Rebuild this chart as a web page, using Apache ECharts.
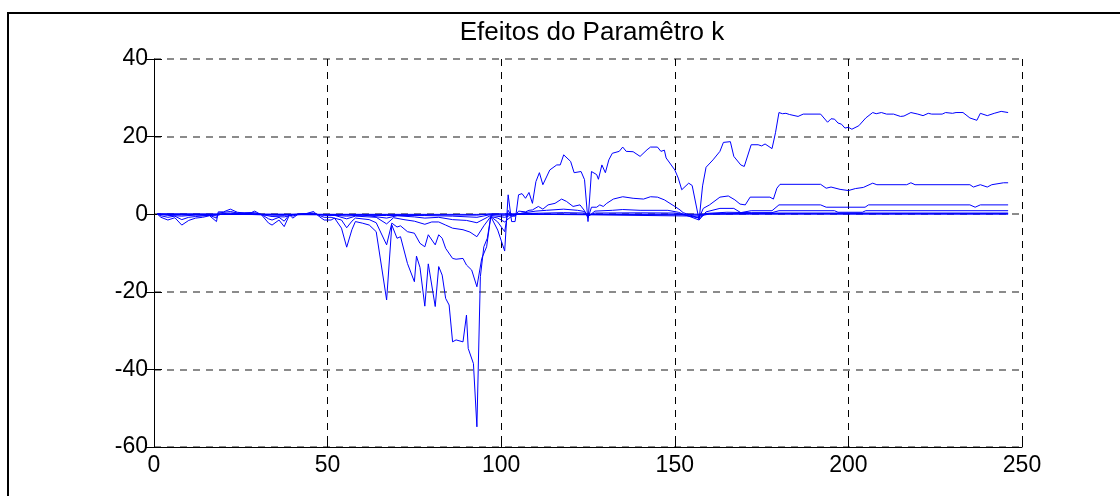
<!DOCTYPE html>
<html>
<head>
<meta charset="utf-8">
<script src="https://cdn.jsdelivr.net/npm/echarts@6/dist/echarts.min.js"></script>
<style>
  html, body { margin: 0; padding: 0; background: #fff; }
  #chart { width: 1120px; height: 496px; }
</style>
</head>
<body>
<div id="chart"></div>
<script>
// Ridge-trace style curves: one line per value of k, plotted against sample index.
const titleText = 'Efeitos do Paramêtro k';
const xTicks = [0, 50, 100, 150, 200, 250];
const yTicks = [-60, -40, -20, 0, 20, 40];

const curveK1 = [
  [1,0],[2,-0.8],[4,-1.5],[6,-0.9],[8,-2.8],[10,-1.6],[12,-1.0],[14,-0.8],[16,-0.4],[18,-1.9],[18.5,0.6],
  [20,0.6],[22,1.3],[24,0.5],[26,0.3],[28,0.4],[29,0.8],[31,-0.2],[33,-2.3],[34,-2.8],[36,-1.5],[37.5,-3.2],
  [39,-0.2],[40,-1.0],[41.5,0],[44,0.2],[46,0.7],[47,-0.2],[49,-1.5],[51,-1.5],[52,-1.0],[54,-3.6],[55.5,-8.5],
  [57,-4.0],[58,-1.9],[60,-2.3],[62,-2.8],[64,-4.5],[67,-22.1],[68.5,-2.8],[70,-6.2],[71,-5.8],[73,-12.7],
  [75,-17.4],[75.6,-10.8],[76.6,-13.7],[78,-23.7],[79,-12.8],[81,-23.8],[82,-13.5],[83,-15.7],[84,-21.7],
  [85,-23.4],[86,-32.9],[87,-32.4],[89,-32.9],[90,-26.0],[90.5,-34.6],[92,-38.5],[93,-54.8],[94,-16.1],
  [95,-8.4],[96,-6.2],[97,-0.6],[99,-4.1],[101,-9.5],[102,5.0],[103,-1.9],[104,-1.9],[105,5.0],[106,5.3],
  [107,4.1],[108,5.6],[109,2.8],[110,8.4],[111,10.7],[112,7.6],[114,11.4],[116,12.7],[117,12.7],[118,15.3],
  [120,13.6],[121,10.7],[123,11.0],[124,8.9],[125,-1.9],[126,11.0],[127.5,10.2],[128,9.0],[129,12.7],[130,10.7],
  [131,14.0],[132,15.7],[134,16.2],[135,17.3],[136,16.2],[138,16.1],[140,14.9],[142,16.6],[143,17.3],[145,17.3],
  [146,16.2],[147,16.5],[147.5,14.5],[150,11.4],[151,9.3],[152,6.3],[154,8.0],[155,7.4],[157,-1.5],[158,7.3],
  [159,12.1],[161,14.0],[163,16.2],[164,18.5],[166,18.7],[167,14.9],[169,12.7],[170,12.3],[172,17.9],[174,17.9],
  [175,17.6],[176,18.1],[178,16.9],[179,21.0],[180,26.2],[181,25.9],[182,26.0],[183,25.7],[185.5,25.2],[187,25.8],
  [192,25.8],[194,23.7],[195,24.6],[196,24.5],[197,23.5],[198,23.2],[199,22.2],[200,22.4],[201,21.9],[203,22.8],
  [205,24.8],[207,26.2],[208,25.9],[209.5,26.2],[211,25.8],[213,25.8],[215,25.2],[216,25.3],[218,26.2],[220,25.8],
  [221.5,25.4],[223,26.0],[224,25.8],[227,25.8],[228,26.2],[230,26.0],[231,26.2],[233,26.2],[235,24.8],[237,24.2],
  [238,26.0],[240,25.4],[242,26.0],[244,26.5],[246,26.2]
];

const curveK2 = [
  [1,0],[2,-0.4],[4,-0.8],[6,-0.5],[8,-1.4],[10,-0.8],[12,-0.6],[16,-0.3],[18,-1.0],[18.5,0.3],[22,0.7],
  [24,0.3],[29,0.4],[31,-0.1],[33,-1.2],[34,-1.5],[36,-0.8],[37.5,-1.8],[39,-0.1],[40,-0.5],[41.5,0],[46,0.3],
  [47,-0.1],[49,-0.8],[51,-0.8],[54,-1.5],[55.5,-3.5],[57,-1.8],[58,-1.0],[62,-1.4],[64,-2.2],[67,-7.9],
  [68.5,-2.3],[70,-3.3],[71,-3.0],[73,-4.5],[75,-4.9],[76.6,-7.5],[78,-8.4],[79,-5.3],[81,-7.9],[82,-5.3],
  [83,-6.2],[84,-8.8],[86,-11.4],[87,-11.6],[89,-11.4],[90,-13.1],[91.5,-14.4],[93,-18.7],[94.4,-11.4],
  [95.8,-8.4],[97,-0.6],[99,-2.0],[101,-4.5],[102,1.0],[103,-0.5],[104,-0.5],[105,0.8],[107,0.6],[108,1.0],
  [109,1.1],[110.7,2.0],[112,1.3],[113.5,2.4],[115.5,2.8],[117.4,3.9],[118.8,3.3],[120.7,2.0],[122.7,2.4],
  [124,0.9],[125,-1.0],[126,1.8],[127.5,1.8],[128.4,2.4],[129.4,2.0],[130.4,2.8],[132.3,3.9],[135,4.5],
  [138,4.1],[141,3.9],[143,4.5],[145,4.4],[147,3.7],[150,2.0],[151.5,1.1],[152.4,0.4],[157,-1.0],[158.2,1.5],
  [160,2.4],[163,4.4],[165.4,4.7],[167.3,3.7],[168.8,2.6],[170.3,2.4],[171.7,4.4],[177.4,4.4],[178.4,3.9],
  [179.4,6.7],[180.3,7.7],[192,7.7],[193.6,6.7],[195,7.0],[197.6,6.4],[200,6.1],[202,6.6],[204.3,6.9],
  [207,8.0],[208.2,7.6],[216.8,7.6],[218,8.1],[219.2,7.6],[235,7.6],[236,7.0],[238,7.6],[240,7.0],
  [241.3,7.6],[244.7,8.1],[246,8.1]
];

const curveK3 = [
  [1,0],[4,-0.3],[8,-0.5],[12,-0.2],[18,-0.4],[20,0.2],[22,0.3],[30,0.1],[34,-0.6],[37.5,-0.7],[40,-0.2],
  [46,0.1],[49,-0.3],[52,-0.3],[55.5,-1.2],[58,-0.5],[64,-0.8],[67,-2.5],[69,-0.9],[72,-1.4],[75,-1.8],
  [78,-2.6],[80,-2.0],[82,-2.0],[84,-2.8],[86,-3.6],[89,-4.0],[91,-4.6],[93,-5.8],[95,-3.0],[97,-0.6],
  [99,-1.0],[101,-2.0],[103,-0.5],[106,0.3],[110,0.8],[113,1.0],[118,1.3],[122,1.0],[124,0.7],[125,-0.6],
  [127,0.8],[132,1.0],[135,1.2],[140,1.0],[148,1.0],[151,0.5],[157,-1.5],[159,0.6],[163,1.5],[167,1.5],
  [169,0.4],[172,0.9],[178,0.9],[180,2.4],[192,2.4],[193.6,1.8],[204.8,1.8],[205.8,2.4],[235,2.4],
  [236.5,1.8],[238,2.4],[246,2.4]
];

const curveK4 = [
  [1,0],[8,-0.2],[18,-0.15],[22,0.1],[34,-0.25],[37.5,-0.3],[41,0],[49,-0.1],[55.5,-0.5],[60,-0.2],
  [67,-1.0],[70,-0.4],[75,-0.7],[78,-1.0],[82,-0.8],[86,-1.4],[90,-1.6],[93,-2.2],[96,-0.8],[97,-0.3],
  [101,-0.8],[103,-0.2],[108,0.2],[118,0.4],[124,0.3],[125,-0.4],[127,0.3],[140,0.35],[150,0.3],[157,-1.0],
  [159,0.2],[165,0.5],[172,0.4],[178,0.4],[180,0.9],[196,0.9],[197,0.5],[204,0.5],[205,0.9],[246,0.9]
];

const curveK5 = [
  [1,0],[8,-0.05],[37,-0.1],[55,-0.2],[67,-0.35],[78,-0.35],[86,-0.5],[93,-0.8],[97,-0.1],[101,-0.3],
  [104,0],[125,-0.15],[157,-0.5],[160,0.05],[180,0.3],[246,0.3]
];

const curveK6 = [
  [1,0.1],[93,-0.25],[97,0.1],[157,-0.2],[160,0.1],[180,0.15],[246,0.15]
];

const curveK7 = [
  [1,0],[93,-0.05],[97,0],[246,0]
];

const curves = [curveK1, curveK2, curveK3, curveK4, curveK5, curveK6, curveK7];

const LINE_BLUE = '#0000ff';
const FONT = '"Liberation Sans", Arial, sans-serif';

const chart = echarts.init(document.getElementById('chart'), null, { renderer: 'canvas' });

const gridLeft = 154, gridTop = 59, gridW = 868, gridH = 388;

chart.setOption({
  animation: false,
  backgroundColor: '#fff',
  title: {
    text: titleText,
    left: 587,
    top: 15,
    textAlign: 'center',
    textStyle: { fontFamily: FONT, fontSize: 26, fontWeight: 'normal', color: '#000' }
  },
  graphic: [{
    type: 'rect',
    shape: { x: 8, y: 13, width: 1300, height: 700 },
    style: { fill: 'none', stroke: '#000', lineWidth: 2 },
    silent: true,
    z: 100
  }],
  grid: { left: gridLeft, top: gridTop, width: gridW, height: gridH, containLabel: false },
  xAxis: [{
    type: 'value', min: 0, max: 250, interval: 50,
    axisLine: { show: true, onZero: false, lineStyle: { color: '#000', width: 1 } },
    axisTick: { show: true, inside: true, length: 8, lineStyle: { color: '#000' } },
    axisLabel: { color: '#000', fontFamily: FONT, fontSize: 23, margin: 7,
      formatter: v => xTicks.includes(v) ? String(v) : '' },
    splitLine: { show: true, lineStyle: { color: '#000', width: 1, type: [7, 6] } }
  }, {
    type: 'value', position: 'top', min: 0, max: 250, interval: 50,
    axisLine: { show: false },
    axisTick: { show: true, inside: true, length: 8, lineStyle: { color: '#000' } },
    axisLabel: { show: false }, splitLine: { show: false }
  }],
  yAxis: [{
    type: 'value', min: -60, max: 40, interval: 20,
    axisLine: { show: true, onZero: false, lineStyle: { color: '#000', width: 1 } },
    axisTick: { show: true, inside: true, length: 8, lineStyle: { color: '#000' } },
    axisLabel: { color: '#000', fontFamily: FONT, fontSize: 23, margin: 6,
      formatter: v => yTicks.includes(v) ? String(v) : '' },
    splitLine: { show: true, lineStyle: { color: '#666', width: 1.5, type: [7, 6] } }
  }, {
    type: 'value', position: 'right', min: -60, max: 40, interval: 20,
    axisLine: { show: false },
    axisTick: { show: true, inside: true, length: 8, lineStyle: { color: '#000' } },
    axisLabel: { show: false }, splitLine: { show: false }
  }],
  series: curves.map(c => ({
    type: 'line',
    data: c,
    xAxisIndex: 0, yAxisIndex: 0,
    showSymbol: false,
    symbol: 'none',
    lineStyle: { color: LINE_BLUE, width: 1 },
    z: 3
  }))
});
</script>
</body>
</html>
